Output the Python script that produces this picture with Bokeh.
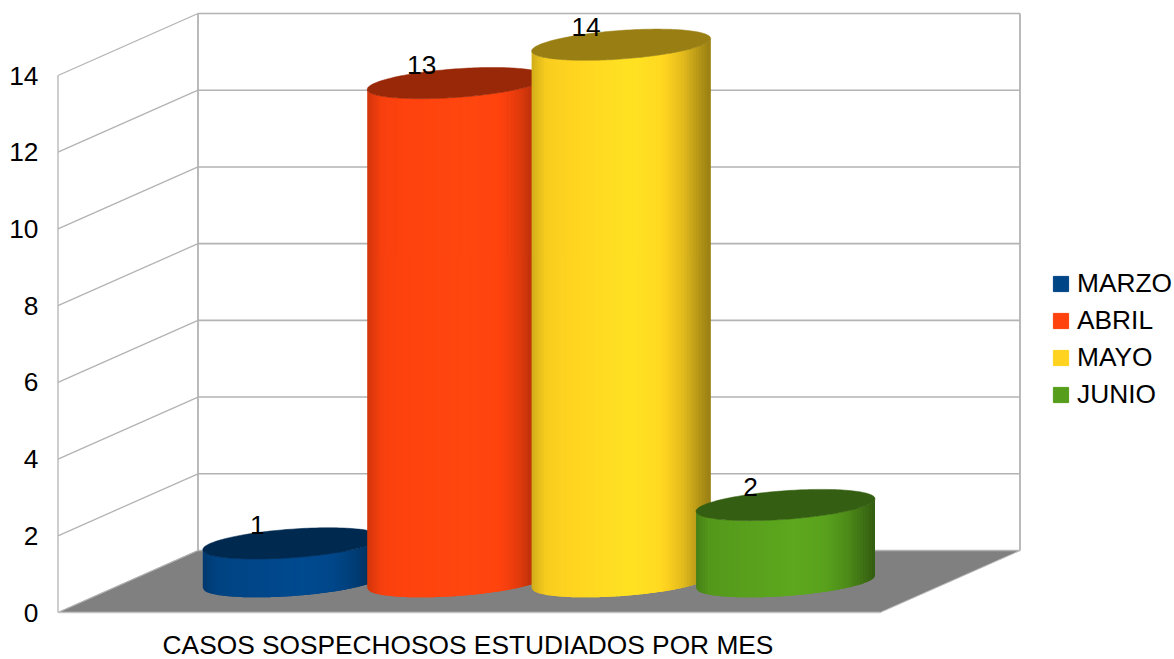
import numpy as np
from bokeh.plotting import figure
from bokeh.embed import file_html
from bokeh.resources import INLINE
from bokeh.core.properties import value
from bokeh.models import ColumnDataSource, FixedTicker, Label, Legend, LegendItem

categories = ["MARZO", "ABRIL", "MAYO", "JUNIO"]
values = [1, 13, 14, 2]
colors = ["#004586", "#ff420e", "#ffd320", "#579d1c"]
y_ticks = [0, 2, 4, 6, 8, 10, 12, 14]
x_title = "CASOS SOSPECHOSOS ESTUDIADOS POR MES"

FONT = "Liberation Sans"
FS = "26.3px"
PX = 38.357            # pixels per value unit
GRID = "#b3b3b3"
WALL_X, WALL_Y = 140, 62 / PX      # depth shift of the back wall
FLOOR_W = 822          # width of the floor
Y_TOP = 14

p = figure(width=1174, height=659, output_backend="svg", toolbar_location=None,
           x_range=(-7.5, 1116.5), y_range=(-47 / PX, 612 / PX),
           min_border_left=50, min_border_right=0, min_border_top=0, min_border_bottom=0,
           outline_line_color=None, background_fill_color="white", border_fill_color="white")
p.grid.visible = False
p.xaxis.visible = False

# y axis
p.yaxis.ticker = FixedTicker(ticks=y_ticks)
p.yaxis.axis_line_color = None
p.yaxis.major_tick_line_color = None
p.yaxis.minor_tick_line_color = None
p.yaxis.major_tick_out = 0
p.yaxis.major_tick_in = 0
p.yaxis.major_label_standoff = 12
p.yaxis.major_label_text_font = FONT
p.yaxis.major_label_text_font_size = FS
p.yaxis.major_label_text_color = "black"

# floor
p.patch([0, WALL_X, WALL_X + FLOOR_W, FLOOR_W], [0, WALL_Y, WALL_Y, 0],
        fill_color="#808080", line_color="#808080", line_width=0.5)

# walls
for v in y_ticks:
    p.line([0, WALL_X], [v, v + WALL_Y], line_color=GRID, line_width=1.3)
    p.line([WALL_X, WALL_X + FLOOR_W], [v + WALL_Y, v + WALL_Y], line_color=GRID, line_width=1.6)
p.line([0, 0], [0, Y_TOP], line_color=GRID, line_width=1.3)
p.line([WALL_X, WALL_X], [WALL_Y, Y_TOP + WALL_Y], line_color=GRID, line_width=1.8)
p.line([WALL_X + FLOOR_W, WALL_X + FLOOR_W], [WALL_Y, Y_TOP + WALL_Y], line_color=GRID, line_width=1.8)
p.line([0, FLOOR_W], [0, 0], line_color="#c4c4c4", line_width=1.6)
p.line([WALL_X + FLOOR_W, FLOOR_W], [WALL_Y, 0], line_color="#c4c4c4", line_width=0.8)

# cylinders
A = 89.5               # half width in px
SHEAR = 6.3 / PX       # right side rises
H = 14.3 / PX          # half height of the ellipse
FIRST_CX, STEP = 234.3, 164.4
BASE = WALL_Y / 2 - 0.006
U = [0, .08, .2, .55, .72, .85, .95, 1]
F = [.82, .97, 1.0, 1.07, 1.03, .88, .68, .6]
N = 60
OVER = 3 / A


def shade(col, f):
    rgb = [int(col[i:i + 2], 16) for i in (1, 3, 5)]
    return "#%02x%02x%02x" % tuple(min(255, int(round(c * f))) for c in rgb)


for i, (cat, v, col) in enumerate(zip(categories, values, colors)):
    cx = FIRST_CX + STEP * i
    top = BASE + v
    xs, ys, fills = [], [], []
    edges = np.linspace(-1, 1, N + 1)
    for c0, c1 in zip(edges[:-1], edges[1:]):
        cc = np.linspace(c0, min(1, c1 + OVER), 5)
        x = cx + A * cc
        low = SHEAR * cc - H * np.sqrt(1 - cc ** 2)
        xs.append(list(x) + list(x[::-1]))
        ys.append(list(top + low) + list((BASE + low)[::-1]))
        fills.append(shade(col, np.interp((c0 + c1) / 4 + .5, U, F)))
    src = ColumnDataSource(dict(xs=xs, ys=ys, fill=fills))
    p.patches("xs", "ys", source=src, fill_color="fill", line_color=None)
    t = np.linspace(0, 2 * np.pi, 180)
    p.patch(cx + A * np.cos(t), top + SHEAR * np.cos(t) + H * np.sin(t),
            fill_color=shade(col, .6), line_color=shade(col, .6), line_width=0.5)

# value labels
lab_x = [FIRST_CX + STEP * i for i in range(4)]
lab_y = [BASE + v for v in values]
p.text(lab_x, lab_y, text=[str(v) for v in values], x_offset=-35, y_offset=-18,
       text_font=value(FONT), text_font_size=value(FS), text_color="black",
       text_align="center", text_baseline="middle")

# x title
p.add_layout(Label(x=410, x_units="data", y=15, y_units="screen", text=x_title,
                   text_font=FONT, text_font_size=FS, text_color="black",
                   text_align="center", text_baseline="middle"), "center")

# legend
items = []
for cat, col in zip(categories, colors):
    r = p.quad(left=[np.nan], right=[np.nan], top=[np.nan], bottom=[np.nan], fill_color=col, line_color=col)
    items.append(LegendItem(label=cat, renderers=[r]))
legend = Legend(items=items, location=(1001, 249), orientation="vertical",
                glyph_width=19, glyph_height=19, label_standoff=7, spacing=6,
                label_text_font=FONT, label_text_font_size=FS, label_text_color="black",
                margin=0, padding=0, background_fill_alpha=0, border_line_color=None)
p.add_layout(legend, "center")

open("out.html", "w").write(file_html(p, INLINE))
